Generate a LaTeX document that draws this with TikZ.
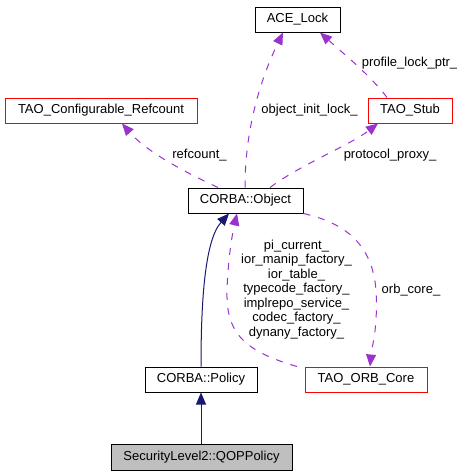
\documentclass[tikz,border=0pt]{standalone}
\usepackage{fontspec}
\setmainfont{Liberation Sans}
\usetikzlibrary{arrows.meta}
\definecolor{usecol}{HTML}{9A32CD}
\definecolor{inhcol}{HTML}{191970}
\definecolor{boxred}{HTML}{FF0000}
\definecolor{boxgray}{HTML}{BFBFBF}
\tikzset{
  cls/.style={draw=black, line width=1pt, minimum height=25pt, inner sep=0pt, font=\fontsize{13}{15}\selectfont},
  redcls/.style={cls, draw=boxred},
  usage/.style={draw=usecol, line width=1pt, dash pattern=on 7pt off 8pt, arrows={-{Triangle[length=12pt,width=10pt,fill=usecol]}}},
  inh/.style={draw=inhcol, line width=1pt, -{Triangle[length=12pt,width=10pt,fill=inhcol]}},
  lbl/.style={font=\fontsize{13}{14.5}\selectfont, inner sep=0pt, align=center}
}
\begin{document}
\begin{tikzpicture}[x=1pt,y=-1pt]
\useasboundingbox (0,0) rectangle (457,475);
\node[cls, minimum width=85pt] (ace) at (297.5,19.5) {ACE\_Lock};
\node[redcls, minimum width=192pt] (ref) at (101,110.5) {TAO\_Configurable\_Refcount};
\node[redcls, minimum width=84pt] (stub) at (410,110.5) {TAO\_Stub};
\node[cls, minimum width=115pt] (obj) at (245.5,200.5) {CORBA::Object};
\node[cls, minimum width=112pt] (pol) at (201,379.5) {CORBA::Policy};
\node[redcls, minimum width=122pt] (orb) at (366,379.5) {TAO\_ORB\_Core};
\node[cls, minimum width=181pt, minimum height=26pt, fill=boxgray] (qop) at (201.5,457) {SecurityLevel2::QOPPolicy};

% inheritance
\draw[inh] (qop.north -| 201,0) -- (pol.south -| 201,0);
\draw[inh] (pol.north -| 201,0) .. controls (201,300) and (205,240) .. (obj.south -| 229,0);

% usage
\draw[usage] (orb.north -| 297,0) .. controls (240,350) and (226,330) .. (227,290) .. controls (228,260) and (232,235) .. (obj.south -| 237,0);
\draw[usage] (obj.south east) .. controls (340,222) and (372,240) .. (376,290) .. controls (378,330) and (372,345) .. (orb.north -| 370,0);
\draw[usage] (obj.north -| 218,0) .. controls (180,170) and (145,150) .. (ref.south -| 122,0);
\draw[usage] (obj.north -| 245,0) .. controls (245,130) and (260,80) .. (ace.south -| 283,0);
\draw[usage] (obj.north -| 270,0) .. controls (300,165) and (350,145) .. (stub.south -| 378,0);
\draw[usage] (stub.north -| 387,0) .. controls (370,75) and (345,55) .. (ace.south -| 320,0);

% labels
\node[lbl] (l1) at (199.5,155) {refcount\_};
\node[lbl] (l2) at (309.5,110) {object\_init\_lock\_};
\node[lbl] (l3) at (390,155) {protocol\_proxy\_};
\node[lbl] (l4) at (409.5,63) {profile\_lock\_ptr\_};
\node[lbl] (l5) at (411,290) {orb\_core\_};
\node[lbl] (l6) at (296.5,289.5) {pi\_current\_\\ior\_manip\_factory\_\\ior\_table\_\\typecode\_factory\_\\implrepo\_service\_\\codec\_factory\_\\dynany\_factory\_};
\end{tikzpicture}
\end{document}
